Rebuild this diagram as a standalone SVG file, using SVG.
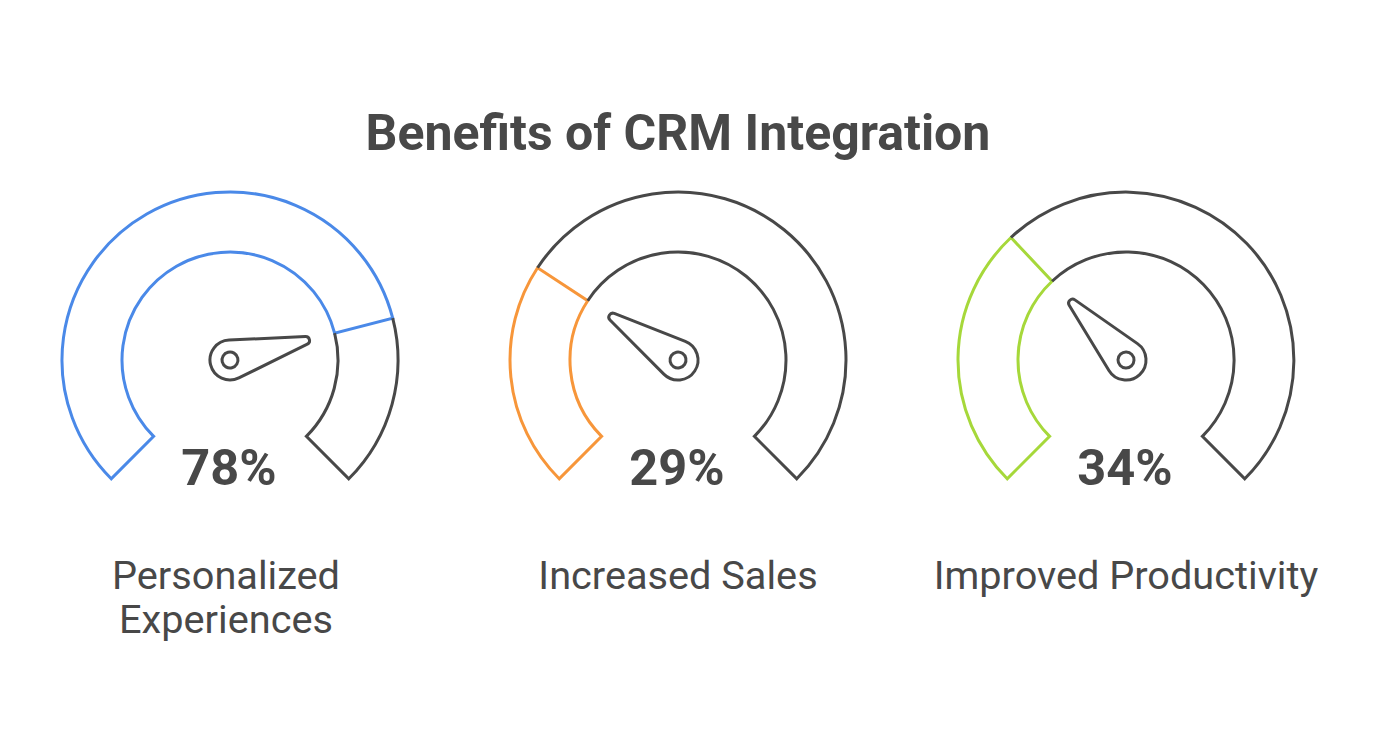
<svg xmlns="http://www.w3.org/2000/svg" width="1379" height="744" viewBox="0 0 1379 744">
<style>
.seg{fill:none;stroke-width:3;stroke-linejoin:miter}
.grey{stroke:#484848}
.blue{stroke:#4a89e8}
.orange{stroke:#f7963a}
.green{stroke:#a6d83a}
.needle{fill:none;stroke:#484848;stroke-width:3;stroke-linejoin:round}
.title{font-family:Roboto,"Liberation Sans",sans-serif;font-weight:700;font-size:50px;fill:#484848;text-anchor:middle}
.pct{font-family:Roboto,"Liberation Sans",sans-serif;font-weight:700;font-size:50.5px;fill:#484848;text-anchor:middle}
.lbl{font-family:Roboto,"Liberation Sans",sans-serif;font-size:39.7px;fill:#484848;text-anchor:middle}
</style>
<defs>
<g id="needleShape">
<path class="needle" d="M4.10 -19.57 L78.82 -3.91 A4 4 0 0 1 78.82 3.91 L4.10 19.57 A20 20 0 1 1 4.10 -19.57 Z"/>
<circle class="needle" cx="0" cy="0" r="8"/>
</g>
</defs>
<rect width="1379" height="744" fill="#ffffff"/>
<text class="title" x="678" y="150">Benefits of CRM Integration</text>

<g id="gauge-personalized">
<path class="seg blue" d="M111.21 478.79 A168 168 0 1 1 392.72 318.22 L334.61 333.14 A108 108 0 1 0 153.63 436.37 Z"/>
<path class="seg grey" d="M392.72 318.22 A168 168 0 0 1 348.79 478.79 L306.37 436.37 A108 108 0 0 0 334.61 333.14"/>
<use href="#needleShape" transform="translate(230 360) rotate(-14.4)"/>
<text class="pct" x="229" y="485">78%</text>
<text class="lbl" x="226" y="589">Personalized</text>
<text class="lbl" x="226" y="633">Experiences</text>
</g>

<g id="gauge-sales">
<path class="seg orange" d="M559.21 478.79 A168 168 0 0 1 537.58 267.76 L587.73 300.71 A108 108 0 0 0 601.63 436.37 Z"/>
<path class="seg grey" d="M537.58 267.76 A168 168 0 1 1 796.79 478.79 L754.37 436.37 A108 108 0 1 0 587.73 300.71"/>
<use href="#needleShape" transform="translate(678 360) rotate(-146.7)"/>
<text class="pct" x="677" y="485">29%</text>
<text class="lbl" x="678" y="589">Increased Sales</text>
</g>

<g id="gauge-productivity">
<path class="seg green" d="M1007.21 478.79 A168 168 0 0 1 1011.00 237.53 L1052.07 281.27 A108 108 0 0 0 1049.63 436.37 Z"/>
<path class="seg grey" d="M1011.00 237.53 A168 168 0 0 1 1244.79 478.79 L1202.37 436.37 A108 108 0 0 0 1052.07 281.27"/>
<use href="#needleShape" transform="translate(1126 360) rotate(-133.2)"/>
<text class="pct" x="1125" y="485">34%</text>
<text class="lbl" x="1126" y="589">Improved Productivity</text>
</g>
<g id="connectors"/>
</svg>
